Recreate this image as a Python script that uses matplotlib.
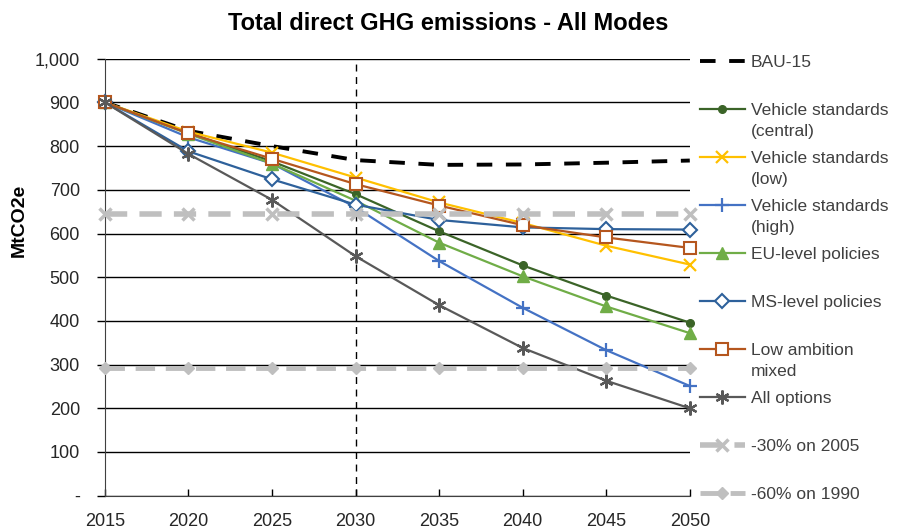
import matplotlib
matplotlib.use("Agg")
import matplotlib.pyplot as plt
from matplotlib.ticker import FuncFormatter

plt.rcParams['font.family'] = ['Liberation Sans', 'DejaVu Sans']

years = [2015, 2020, 2025, 2030, 2035, 2040, 2045, 2050]

bau_15 = [900, 835, 800, 768, 757, 758, 762, 767]
veh_central = [900, 830, 765, 690, 605, 527, 458, 396]
veh_low = [900, 833, 785, 728, 671, 624, 572, 529]
veh_high = [900, 820, 760, 660, 537, 430, 333, 251]
eu_level = [900, 828, 760, 675, 579, 502, 433, 372]
ms_level = [900, 788, 724, 666, 631, 614, 610, 609]
low_ambition = [900, 829, 771, 713, 664, 619, 591, 567]
all_options = [900, 782, 677, 548, 436, 338, 263, 200]
target_2005 = [645] * len(years)
target_1990 = [293] * len(years)

fig = plt.figure(figsize=(8.97, 5.29), dpi=100)
ax = fig.add_axes([0.117, 0.063, 0.652, 0.826])

series = [
    (bau_15, "BAU-15", dict(color="black", lw=2.8, dashes=(4, 3.5), marker=None)),
    (veh_central, "Vehicle standards\n(central)",
     dict(color="#3B6428", lw=1.6, marker="o", ms=5.5)),
    (veh_low, "Vehicle standards\n(low)",
     dict(color="#FFC000", lw=1.6, marker="x", ms=8.5, mew=1.6)),
    (veh_high, "Vehicle standards\n(high)",
     dict(color="#4472C4", lw=1.6, marker="+", ms=10, mew=1.6)),
    (eu_level, "EU-level policies",
     dict(color="#70AD47", lw=1.6, marker="^", ms=8)),
    (ms_level, "MS-level policies",
     dict(color="#2E619B", lw=1.6, marker="D", ms=7, mfc="white", mew=1.5)),
    (low_ambition, "Low ambition\nmixed",
     dict(color="#B5561E", lw=1.6, marker="s", ms=9, mfc="white", mew=1.5)),
    (all_options, "All options",
     dict(color="#595959", lw=1.6, marker=(6, 2, 0), ms=10, mew=1.6)),
    (target_2005, "-30% on 2005",
     dict(color="#BFBFBF", lw=4, dashes=(4, 2.2), marker="x", ms=8, mew=2.5)),
    (target_1990, "-60% on 1990",
     dict(color="#BFBFBF", lw=3.5, dashes=(4, 2.2), marker="D", ms=6)),
]

# targets drawn first so the scenario lines sit on top
order = [8, 9, 0, 1, 2, 3, 4, 5, 6, 7]
handles = {}
for i in order:
    vals, label, style = series[i]
    ln, = ax.plot(years, vals, label=label, clip_on=False, zorder=3 + i * 0.1, **style)
    handles[i] = ln

ax.axvline(2030, color="black", lw=1, dashes=(5, 4), zorder=2)

ax.set_xlim(2015, 2050)
ax.set_ylim(0, 1000)
ax.set_xticks(years)
ax.set_yticks(range(0, 1001, 100))
ax.yaxis.set_major_formatter(FuncFormatter(lambda v, p: "-" if v == 0 else f"{v:,.0f}"))
ax.grid(axis="y", color="black", lw=1)
ax.set_axisbelow(True)
for s in ["top", "right"]:
    ax.spines[s].set_visible(False)
ax.spines["left"].set_color("#404040")
ax.spines["bottom"].set_color("#404040")
ax.tick_params(axis="y", length=6, width=1, color="black", labelsize=13, pad=12,
               labelcolor="#262626")
ax.tick_params(axis="x", direction="in", length=5, width=1, labelsize=13, pad=12.5,
               labelcolor="#262626")

ax.set_ylabel("MtCO2e", fontsize=14, fontweight="bold")
ax.yaxis.set_label_coords(-0.132, 0.63)
fig.text(0.5, 0.956, "Total direct GHG emissions - All Modes", ha="center", va="center",
         fontsize=17, fontweight="bold")

# Excel-style legend: entries on an even pitch, second line hangs below the first
first_lines = [s[1].split("\n")[0] for s in series]
leg_fs = 12.5
leg = fig.legend([handles[i] for i in range(10)], first_lines,
                 loc="upper left", bbox_to_anchor=(0.7626, 0.925), frameon=False,
                 fontsize=leg_fs, handlelength=2.6, handletextpad=0.33,
                 labelspacing=1.89, labelcolor="#404040")

fig.canvas.draw()
inv = fig.transFigure.inverted()
for txt, (vals, label, style) in zip(leg.get_texts(), series):
    parts = label.split("\n")
    if len(parts) < 2:
        continue
    bb = txt.get_window_extent()
    x0, y0 = inv.transform((bb.x0, bb.y0 - 21))
    fig.text(x0, y0, parts[1], fontsize=leg_fs, color="#404040", ha="left", va="bottom")

fig.savefig("out.png", dpi=100)
